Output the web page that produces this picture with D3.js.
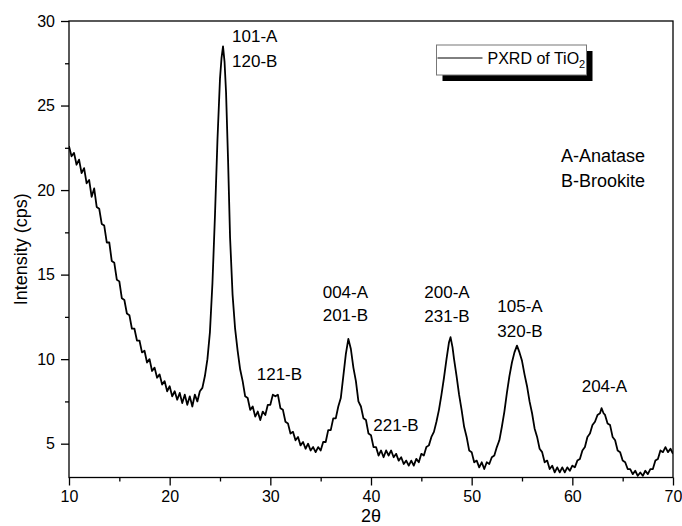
<!DOCTYPE html>
<html>
<head>
<meta charset="utf-8">
<script src="https://cdn.jsdelivr.net/npm/d3@7"></script>
<style>
  body { margin: 0; background: #fff; }
  svg { font-family: "Liberation Sans", Arial, sans-serif; }
</style>
</head>
<body>
<div id="chart-area"></div>
<script>
// Data
// ****
// [2theta, intensity (cps)]
const pxrd = [
  [10.00, 22.6], [10.25, 22.0], [10.50, 22.2], [10.75, 21.5], [11.00, 21.8], [11.25, 21.0],
  [11.50, 21.3], [11.75, 20.4], [12.00, 20.6], [12.25, 19.6], [12.50, 20.1], [12.75, 19.0],
  [13.00, 18.9], [13.25, 18.0], [13.50, 17.9], [13.75, 16.9], [14.00, 16.9], [14.25, 15.8],
  [14.50, 15.7], [14.75, 14.7], [15.00, 14.6], [15.25, 13.6], [15.50, 13.5], [15.75, 12.7],
  [16.00, 12.6], [16.25, 11.8], [16.50, 11.8], [16.75, 11.1], [17.00, 11.1], [17.25, 10.4],
  [17.50, 10.5], [17.75, 9.8], [18.00, 10.0], [18.25, 9.3], [18.50, 9.5], [18.75, 8.9],
  [19.00, 9.1], [19.25, 8.5], [19.50, 8.7], [19.75, 8.1], [20.00, 8.4], [20.25, 7.8],
  [20.50, 8.1], [20.75, 7.6], [21.00, 8.0], [21.25, 7.4], [21.50, 7.9], [21.75, 7.3],
  [22.00, 7.8], [22.25, 7.2], [22.50, 7.9], [22.75, 7.5], [23.00, 8.1], [23.25, 8.3],
  [23.50, 9.0], [23.75, 10.0], [24.00, 11.6], [24.25, 14.5], [24.50, 18.5], [24.75, 23.0],
  [25.00, 26.6], [25.15, 27.8], [25.30, 28.5], [25.45, 27.6], [25.60, 25.8], [25.80, 21.8],
  [26.00, 17.2], [26.25, 13.8], [26.50, 11.8], [26.75, 10.5], [27.00, 9.4], [27.25, 8.7],
  [27.50, 7.8], [27.75, 7.7], [28.00, 7.0], [28.25, 7.2], [28.50, 6.6], [28.75, 6.9],
  [29.00, 6.4], [29.25, 6.9], [29.50, 6.7], [29.75, 7.3], [30.00, 7.3], [30.25, 7.9],
  [30.50, 7.8], [30.75, 7.9], [31.00, 7.1], [31.25, 7.0], [31.50, 6.3], [31.75, 6.2],
  [32.00, 5.6], [32.25, 5.7], [32.50, 5.2], [32.75, 5.4], [33.00, 4.9], [33.25, 5.1],
  [33.50, 4.7], [33.75, 5.0], [34.00, 4.6], [34.25, 4.8], [34.50, 4.5], [34.75, 4.8],
  [35.00, 4.6], [35.25, 5.1], [35.50, 5.1], [35.75, 5.8], [36.00, 5.8], [36.25, 6.5],
  [36.50, 6.5], [36.75, 7.2], [37.00, 7.7], [37.25, 9.0], [37.50, 10.3], [37.75, 11.2],
  [38.00, 10.6], [38.25, 9.5], [38.50, 8.7], [38.75, 7.5], [39.00, 7.2], [39.25, 6.5],
  [39.50, 6.4], [39.75, 5.6], [40.00, 5.5], [40.25, 4.8], [40.50, 4.8], [40.75, 4.3],
  [41.00, 4.6], [41.25, 4.2], [41.50, 4.6], [41.75, 4.3], [42.00, 4.6], [42.25, 4.2],
  [42.50, 4.4], [42.75, 4.0], [43.00, 4.2], [43.25, 3.8], [43.50, 4.0], [43.75, 3.7],
  [44.00, 4.0], [44.25, 3.7], [44.50, 4.1], [44.75, 3.9], [45.00, 4.4], [45.25, 4.3],
  [45.50, 4.8], [45.75, 4.9], [46.00, 5.4], [46.25, 5.7], [46.50, 6.3], [46.75, 7.0],
  [47.00, 7.9], [47.25, 8.9], [47.50, 10.0], [47.75, 11.0], [47.90, 11.3], [48.10, 10.7],
  [48.25, 10.0], [48.50, 9.0], [48.75, 7.9], [49.00, 7.0], [49.25, 6.0], [49.50, 5.4],
  [49.75, 4.6], [50.00, 4.5], [50.25, 3.9], [50.50, 4.0], [50.75, 3.6], [51.00, 3.9],
  [51.25, 3.5], [51.50, 3.9], [51.75, 3.8], [52.00, 4.2], [52.25, 4.3], [52.50, 4.8],
  [52.75, 5.2], [53.00, 6.0], [53.25, 6.9], [53.50, 8.0], [53.75, 9.0], [54.00, 9.8],
  [54.25, 10.4], [54.50, 10.8], [54.75, 10.4], [55.00, 9.9], [55.25, 9.1], [55.50, 8.4],
  [55.75, 7.5], [56.00, 6.8], [56.25, 5.9], [56.50, 5.4], [56.75, 4.7], [57.00, 4.5],
  [57.25, 3.9], [57.50, 4.0], [57.75, 3.5], [58.00, 3.7], [58.25, 3.3], [58.50, 3.6],
  [58.75, 3.3], [59.00, 3.6], [59.25, 3.3], [59.50, 3.6], [59.75, 3.4], [60.00, 3.7],
  [60.25, 3.6], [60.50, 4.0], [60.75, 4.1], [61.00, 4.6], [61.25, 4.8], [61.50, 5.4],
  [61.75, 5.6], [62.00, 6.1], [62.25, 6.3], [62.50, 6.7], [62.75, 6.8], [62.90, 7.1],
  [63.10, 6.8], [63.25, 6.7], [63.50, 6.2], [63.75, 6.1], [64.00, 5.4], [64.25, 5.2],
  [64.50, 4.6], [64.75, 4.5], [65.00, 4.0], [65.25, 3.9], [65.50, 3.5], [65.75, 3.5],
  [66.00, 3.2], [66.25, 3.4], [66.50, 3.1], [66.75, 3.3], [67.00, 3.1], [67.25, 3.4],
  [67.50, 3.2], [67.75, 3.5], [68.00, 3.5], [68.25, 4.0], [68.50, 4.1], [68.75, 4.6],
  [69.00, 4.5], [69.25, 4.8], [69.50, 4.5], [69.75, 4.7], [70.00, 4.4]
]

const xTicks = [10, 20, 30, 40, 50, 60, 70]
const xMinorTicks = [15, 25, 35, 45, 55, 65]
const yTicks = [5, 10, 15, 20, 25, 30]
const yMinorTicks = [7.5, 12.5, 17.5, 22.5, 27.5]

// peak labels: [text, 2theta, intensity] of the text's baseline start
const peakLabels = [
  ["101-A", 26.2, 28.74], ["120-B", 26.2, 27.26],
  ["121-B", 28.65, 8.78],
  ["004-A", 35.2, 13.63], ["201-B", 35.2, 12.23],
  ["221-B", 40.23, 5.75],
  ["200-A", 45.3, 13.63], ["231-B", 45.3, 12.21],
  ["105-A", 52.55, 12.76], ["320-B", 52.55, 11.31],
  ["204-A", 60.93, 8.08]
]
const phaseNotes = ["A-Anatase", "B-Brookite"]

// Config
// ******
const W = 682, H = 526
const margin = {top: 21, right: 9, bottom: 48.5, left: 69}
const width = W - margin.left - margin.right, height = H - margin.top - margin.bottom

const svg = d3.select("#chart-area").append("svg")
  .attr("width", W).attr("height", H)
const g = svg.append("g")
  .attr("transform", "translate(" + margin.left + "," + margin.top + ")")

const x = d3.scaleLinear().domain([10, 70]).range([0, width])
const y = d3.scaleLinear().domain([3, 30]).range([height, 0])

g.append("clipPath").attr("id", "clip")
  .append("rect").attr("width", width).attr("height", height)

// Trace
g.append("path")
  .datum(pxrd)
  .attr("clip-path", "url(#clip)")
  .attr("fill", "none")
  .attr("stroke", "#000")
  .attr("stroke-width", 1.8)
  .attr("stroke-linejoin", "round")
  .attr("d", d3.line().x(d => x(d[0])).y(d => y(d[1])))

// Axes
g.append("g").attr("transform", "translate(0," + height + ")")
  .call(d3.axisBottom(x).tickValues(xTicks).tickSize(8).tickSizeOuter(0).tickPadding(5))
g.append("g").attr("transform", "translate(0," + height + ")")
  .call(d3.axisBottom(x).tickValues(xMinorTicks).tickSize(4).tickSizeOuter(0).tickFormat(""))
g.append("g")
  .call(d3.axisLeft(y).tickValues(yTicks).tickSize(8).tickSizeOuter(0).tickPadding(6))
g.append("g")
  .call(d3.axisLeft(y).tickValues(yMinorTicks).tickSize(4).tickSizeOuter(0).tickFormat(""))

g.selectAll(".domain").remove()
g.selectAll(".tick line").attr("stroke", "#000").attr("stroke-width", 1.3)
g.selectAll(".tick text")
  .attr("fill", "#000")
  .style("font-size", "16px")
  .style("font-family", "'Liberation Sans', Arial, sans-serif")

// Frame
g.append("rect")
  .attr("width", width).attr("height", height)
  .attr("fill", "none").attr("stroke", "#000").attr("stroke-width", 1.3)

// Axis labels
g.append("text")
  .attr("transform", "rotate(-90)")
  .attr("x", -height / 2).attr("y", -42)
  .attr("text-anchor", "middle")
  .attr("font-size", "18px")
  .text("Intensity (cps)")

g.append("text")
  .attr("x", width / 2).attr("y", height + 44)
  .attr("text-anchor", "middle")
  .attr("font-size", "18px")
  .text("2θ")

// Peak labels
g.selectAll(".peak").data(peakLabels).enter().append("text")
  .attr("class", "peak")
  .attr("x", d => x(d[1])).attr("y", d => y(d[2]))
  .attr("font-size", "17px")
  .text(d => d[0])

// Phase legend
phaseNotes.forEach((t, i) => {
  g.append("text")
    .attr("x", x(58.87)).attr("y", y(21.65) + i * 25)
    .attr("font-size", "18px")
    .text(t)
})

// Series legend with drop shadow
const legend = svg.append("g").attr("transform", "translate(436.5,45)")
legend.append("rect")
  .attr("x", 6).attr("y", 6).attr("width", 150).attr("height", 30)
  .attr("fill", "#000")
legend.append("rect")
  .attr("width", 150).attr("height", 30)
  .attr("fill", "#fff").attr("stroke", "#777").attr("stroke-width", 1)
legend.append("line")
  .attr("x1", 1).attr("x2", 46).attr("y1", 13).attr("y2", 13)
  .attr("stroke", "#000").attr("stroke-width", 1)
const legendText = legend.append("text")
  .attr("x", 51).attr("y", 19)
  .attr("font-size", "16px")
legendText.append("tspan").text("PXRD of TiO")
legendText.append("tspan").attr("font-size", "11px").attr("dy", 4).text("2")
</script>
</body>
</html>
